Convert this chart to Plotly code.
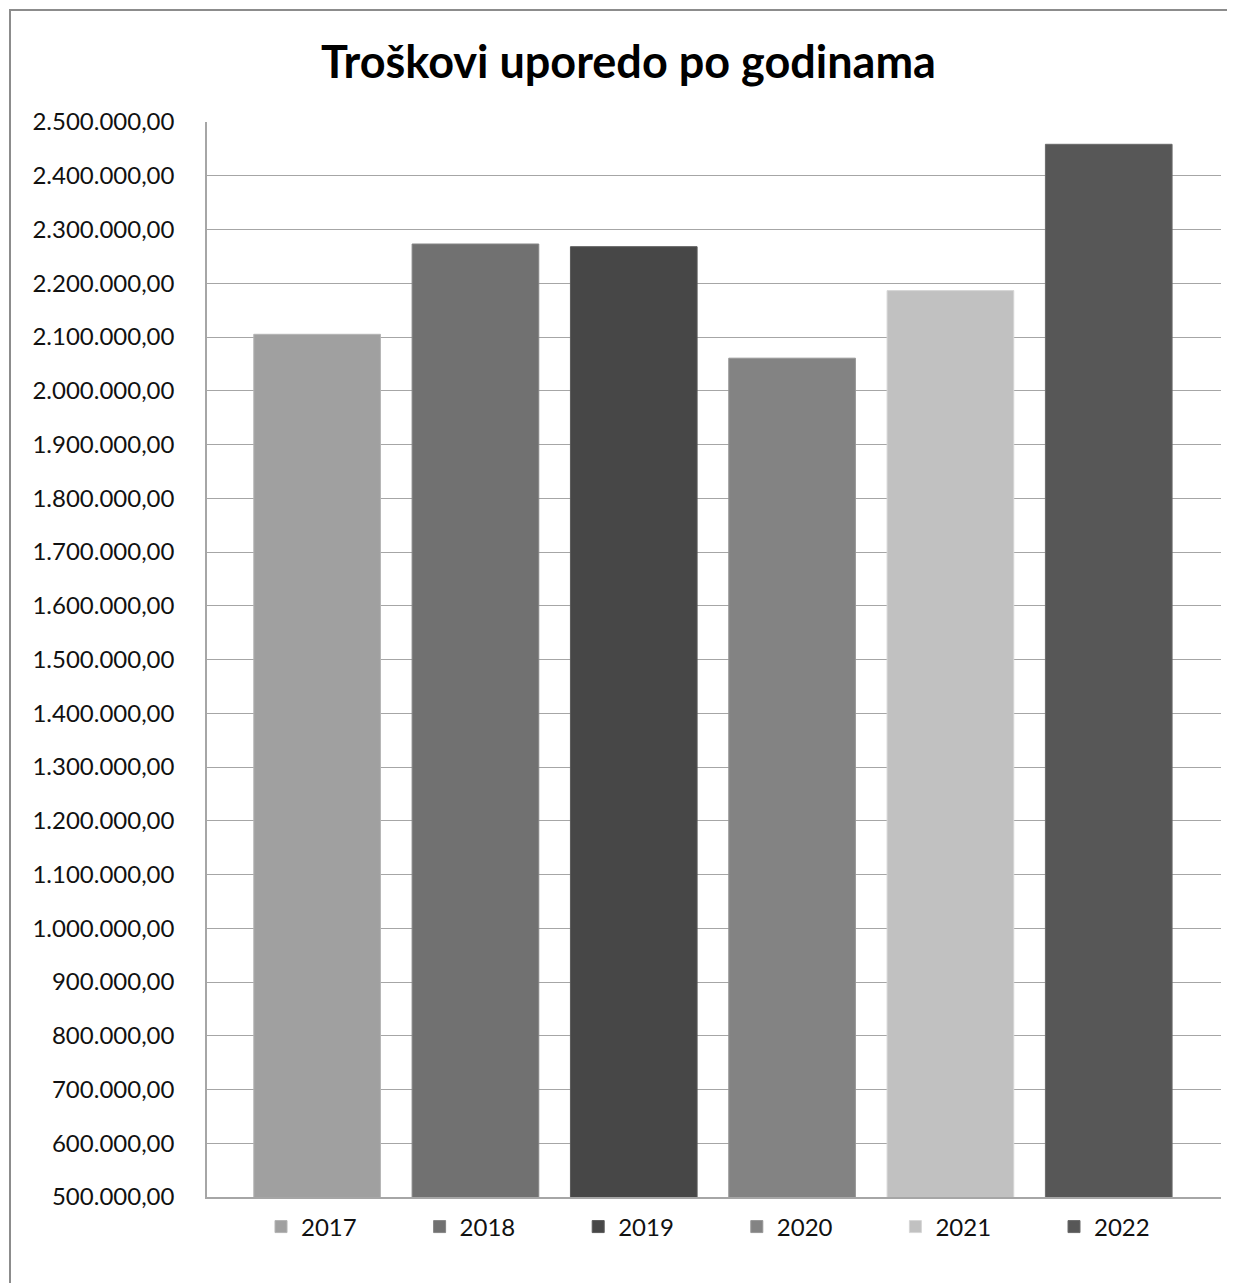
import plotly.graph_objects as go

years = ["2017", "2018", "2019", "2020", "2021", "2022"]
values = [2105000, 2273000, 2268000, 2060600, 2186300, 2458500]
colors = ["#a0a0a0", "#717171", "#474747", "#838383", "#c1c1c1", "#575757"]
edge_colors = ["#b4b4b4", "#858585", "#5a5a5a", "#969696", "#d6d6d6", "#6a6a6a"]

y_min, y_max, y_step = 500000, 2500000, 100000
title_text = "Troškovi uporedo po godinama"

OFF = 8  # page body margin
W, H = 1235 - OFF, 1283 - OFF
# plot area in page coordinates: x 207..1221, y 122..1197.5
L, R = 207 - OFF, W - (1221 - OFF)
T, B = 122 - OFF, H - (1197.5 - OFF)
pw, ph = W - L - R, H - T - B

def px_x(p):  # page x -> paper
    return (p - OFF - L) / pw

def px_y(p):  # page y -> paper
    return (H - B - (p - OFF)) / ph

FONT = "Lato"

fig = go.Figure()
for yr, v, c, ec in zip(years, values, colors, edge_colors):
    fig.add_trace(go.Bar(
        x=[yr], y=[v], name=yr, width=0.8,
        marker=dict(color=c, line=dict(color=ec, width=1)),
    ))

border = dict(color="#8c8c8c", width=2)

fig.update_layout(
    width=W, height=H,
    margin=dict(l=L, r=R, t=T, b=B, autoexpand=False),
    paper_bgcolor="white", plot_bgcolor="white",
    barmode="overlay",
    separators=",.",
    font=dict(family=FONT, size=24, color="#111111"),
    title=dict(
        text="<b>" + title_text + "</b>",
        font=dict(family=FONT, size=45, color="#000000"),
        x=px_x(628.5), xref="paper", xanchor="center",
        y=1 - (62 - OFF) / H, yref="container", yanchor="middle",
    ),
    xaxis=dict(
        type="category", categoryorder="array", categoryarray=years,
        range=[-0.6955, 5.709], showticklabels=False, ticks="",
        showgrid=False, showline=True, linecolor="#a6a6a6", linewidth=1.5,
        zeroline=False, fixedrange=True,
    ),
    yaxis=dict(
        range=[y_min, y_max], dtick=y_step, tick0=y_min,
        tickformat=",.2f", showgrid=True, gridcolor="#a6a6a6", gridwidth=1.3,
        showline=True, linecolor="#a6a6a6", linewidth=1.5,
        ticks="", ticklabelstandoff=26, zeroline=False,
        tickfont=dict(family=FONT, size=24, color="#111111"),
    ),
    legend=dict(
        orientation="h", x=px_x(261), xanchor="left",
        y=px_y(1227.5), yanchor="middle",
        entrywidth=113.6, entrywidthmode="pixels",
        font=dict(family=FONT, size=24, color="#111111"),
        bgcolor="rgba(0,0,0,0)", borderwidth=0,
        traceorder="normal",
    ),
    shapes=[
        dict(type="line", xref="paper", yref="paper",
             x0=px_x(10), x1=px_x(10), y0=px_y(1283 + 40), y1=px_y(9),
             line=border, layer="below"),
        dict(type="line", xref="paper", yref="paper",
             x0=px_x(9), x1=px_x(1235 + 40), y0=px_y(10), y1=px_y(10),
             line=border, layer="below"),
    ],
)

fig.write_html("out.html")
